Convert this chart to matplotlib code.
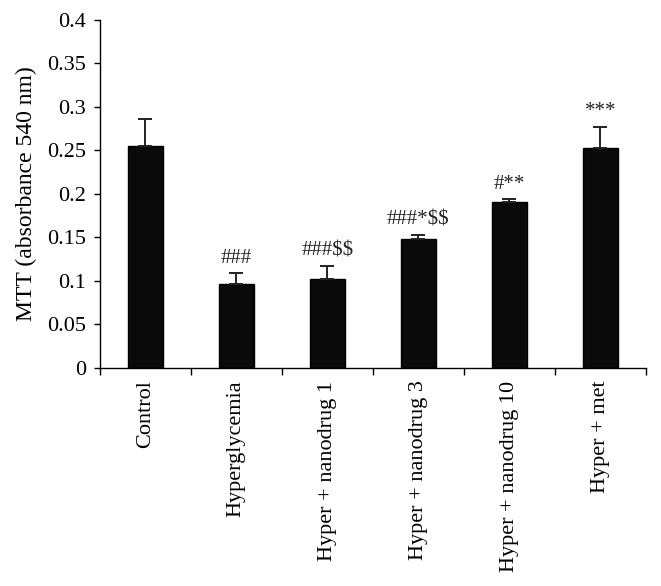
import numpy as np
import matplotlib.pyplot as plt

plt.rcParams['font.family'] = ['Liberation Serif', 'DejaVu Serif']
plt.rcParams['text.parse_math'] = False

groups = ["Control", "Hyperglycemia", "Hyper + nanodrug 1", "Hyper + nanodrug 3",
          "Hyper + nanodrug 10", "Hyper + met"]
mtt = [0.255, 0.096, 0.102, 0.148, 0.191, 0.253]
sem = [0.031, 0.013, 0.015, 0.005, 0.003, 0.024]
marks = ["", "###", "###$$", "###*$$", "#**", "***"]

fig = plt.figure(figsize=(6.61, 5.86), dpi=100)
ax = fig.add_axes([0.151, 0.372, 0.826, 0.594])

x = np.arange(len(groups))
ax.bar(x, mtt, width=0.38, color='#0a0a0a', edgecolor='black', zorder=2)
ax.errorbar(x, mtt, yerr=[np.zeros(len(sem)), sem], fmt='none', ecolor='#222222',
            elinewidth=1.4, capsize=5, capthick=1.4, zorder=3)

for xi, m, s, t in zip(x, mtt, sem, marks):
    if t:
        ax.annotate(t, (xi, m + s), xytext=(0, 4), textcoords='offset points',
                    ha='center', va='bottom', fontsize=15, color='#222222')

ax.set_xlim(-0.5, len(groups) - 0.5)
ax.set_ylim(0, 0.4)
ax.set_yticks(np.arange(0, 0.401, 0.05))
ax.set_yticklabels(["0", "0.05", "0.1", "0.15", "0.2", "0.25", "0.3", "0.35", "0.4"])
ax.set_ylabel("MTT (absorbance 540 nm)", fontsize=17, labelpad=7)

ax.set_xticks(x)
ax.set_xticklabels(groups, rotation=90, fontsize=16)
ax.tick_params(axis='x', length=0, pad=9)
ax.set_xticks(np.arange(-0.5, len(groups)), minor=True)
ax.tick_params(axis='x', which='minor', length=5, width=1, direction='out')
ax.tick_params(axis='y', labelsize=16, length=4, width=1, direction='out', pad=6)

ax.spines['top'].set_visible(False)
ax.spines['right'].set_visible(False)
ax.spines['left'].set_linewidth(1)
ax.spines['bottom'].set_linewidth(1)

fig.savefig("out.png", dpi=100)
